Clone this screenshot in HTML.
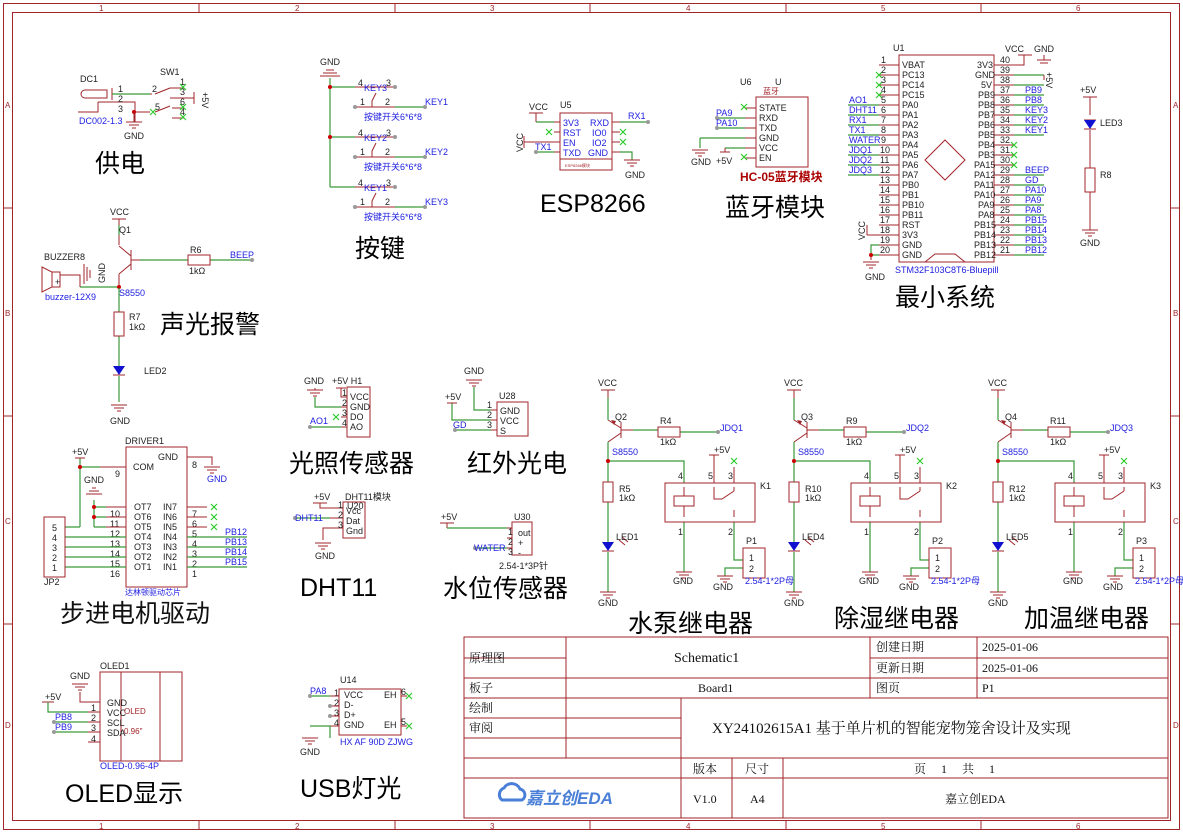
<!DOCTYPE html>
<html><head><meta charset="utf-8"><style>
body{margin:0;background:#fff}
svg{display:block}
text{font-family:"Liberation Sans","Noto Sans CJK SC",sans-serif}
.r{stroke:#a0252a;fill:none;stroke-width:1}
.g{stroke:#3a9a3a;fill:none;stroke-width:1.2}
.b{fill:#2020e0;font-size:9px}
.k{fill:#222;font-size:9px}
.rk{fill:#a0252a;font-size:8px}
.big{fill:#000;font-size:25px}
.x{stroke:#2ecc2e;stroke-width:1.2}
.s text{font-family:"Liberation Serif","Noto Serif CJK SC",serif;fill:#111}
</style></head><body>
<svg width="1183" height="833" viewBox="0 0 1183 833" xmlns="http://www.w3.org/2000/svg">
<!-- frame -->
<rect x="3.5" y="3.5" width="1176" height="826" class="r"/>
<rect x="12.5" y="12.5" width="1158" height="808" class="r"/>
<g class="r">
<line x1="199" y1="3" x2="199" y2="12"/><line x1="395" y1="3" x2="395" y2="12"/><line x1="590" y1="3" x2="590" y2="12"/><line x1="786" y1="3" x2="786" y2="12"/><line x1="981" y1="3" x2="981" y2="12"/>
<line x1="199" y1="821" x2="199" y2="830"/><line x1="395" y1="821" x2="395" y2="830"/><line x1="590" y1="821" x2="590" y2="830"/><line x1="786" y1="821" x2="786" y2="830"/><line x1="981" y1="821" x2="981" y2="830"/>
<line x1="3" y1="208" x2="12" y2="208"/><line x1="3" y1="416" x2="12" y2="416"/><line x1="3" y1="624" x2="12" y2="624"/>
<line x1="1171" y1="208" x2="1180" y2="208"/><line x1="1171" y1="416" x2="1180" y2="416"/><line x1="1171" y1="624" x2="1180" y2="624"/>
</g>
<g class="rk" font-size="8">
<text x="99" y="11">1</text><text x="295" y="11">2</text><text x="490" y="11">3</text><text x="686" y="11">4</text><text x="881" y="11">5</text><text x="1076" y="11">6</text>
<text x="99" y="829">1</text><text x="295" y="829">2</text><text x="490" y="829">3</text><text x="686" y="829">4</text><text x="881" y="829">5</text><text x="1076" y="829">6</text>
<text x="5" y="108">A</text><text x="5" y="316">B</text><text x="5" y="524">C</text><text x="5" y="728">D</text>
<text x="1173" y="108">A</text><text x="1173" y="316">B</text><text x="1173" y="524">C</text><text x="1173" y="728">D</text>
</g>

<!-- 供电 -->
<text class="k" x="80" y="82">DC1</text><text class="k" x="160" y="75">SW1</text>
<path class="r" d="M85 90 h22 v8 h-22 a4 4 0 0 1 0-8z M112 88 v12 M98 102 v10 h-20"/>
<path class="r" d="M112 94 h40 M98 102 h37 v20 M135 112 h15"/>
<line class="g" x1="112" y1="94" x2="150" y2="94"/>
<text class="k" x="118" y="92">1</text><text class="k" x="118" y="102">2</text><text class="k" x="118" y="112">3</text><text class="k" x="152" y="92">2</text><text class="k" x="180" y="85">1</text><text class="k" x="180" y="95">3</text><text class="k" x="180" y="105">6</text><text class="k" x="180" y="115">4</text><text class="k" x="155" y="110">5</text>
<path class="r" d="M155 94 l15 -6 M170 88 h14 M170 98 h24 M155 112 l15 -6 M172 108 h12 M172 118 h12"/>
<path class="x" d="M180 84 l6 6 m0 -6 l-6 6 M180 104 l6 6 m0 -6 l-6 6 M180 114 l6 6 m0 -6 l-6 6 M150 109 l6 6 m0 -6 l-6 6"/>
<line class="r" x1="194" y1="92" x2="194" y2="104"/><text class="k" transform="translate(202 92) rotate(90)">+5V</text>
<circle cx="134" cy="112" r="2" fill="#c00"/>
<path class="r" d="M134 112 v10 M126 122 h16 M129 125 h10 M132 128 h4"/>
<text class="k" x="124" y="139">GND</text>
<text class="b" x="79" y="124">DC002-1.3</text>
<text class="big" x="95" y="172">供电</text>

<!-- 按键 -->
<text class="k" x="320" y="65">GND</text>
<path class="r" d="M320 76 h20 M323 73 h14 M326 70 h8"/>
<path class="g" d="M330 78 v109 M330 87 h25 M330 137 h25 M330 187 h25"/>
<circle cx="330" cy="87" r="2" fill="#c00"/><circle cx="330" cy="137" r="2" fill="#c00"/>
<path class="r" d="M355 87 h40 M355 107 h40 M372 107 v-6 l4 -8"/>
<line class="g" x1="395" y1="107" x2="425" y2="107"/>
<circle cx="395" cy="87" r="2" fill="#999"/><circle cx="355" cy="107" r="2" fill="#999"/><circle cx="425" cy="107" r="2" fill="#999"/>
<text class="k" x="358" y="86">4</text><text class="b" x="364" y="91">KEY3</text><text class="k" x="386" y="86">3</text><text class="k" x="360" y="105">1</text><text class="k" x="385" y="105">2</text><text class="b" x="425" y="105">KEY1</text><text class="b" x="364" y="120">按键开关6*6*8</text>
<g transform="translate(0 50)">
<path class="r" d="M355 87 h40 M355 107 h40 M372 107 v-6 l4 -8"/><line class="g" x1="395" y1="107" x2="425" y2="107"/>
<circle cx="395" cy="87" r="2" fill="#999"/><circle cx="355" cy="107" r="2" fill="#999"/><circle cx="425" cy="107" r="2" fill="#999"/>
<text class="k" x="358" y="86">4</text><text class="b" x="364" y="91">KEY2</text><text class="k" x="386" y="86">3</text><text class="k" x="360" y="105">1</text><text class="k" x="385" y="105">2</text><text class="b" x="425" y="105">KEY2</text><text class="b" x="364" y="120">按键开关6*6*8</text>
</g>
<g transform="translate(0 100)">
<path class="r" d="M355 87 h40 M355 107 h40 M372 107 v-6 l4 -8"/><line class="g" x1="395" y1="107" x2="425" y2="107"/>
<circle cx="395" cy="87" r="2" fill="#999"/><circle cx="355" cy="107" r="2" fill="#999"/><circle cx="425" cy="107" r="2" fill="#999"/>
<text class="k" x="358" y="86">4</text><text class="b" x="364" y="91">KEY1</text><text class="k" x="386" y="86">3</text><text class="k" x="360" y="105">1</text><text class="k" x="385" y="105">2</text><text class="b" x="425" y="105">KEY3</text><text class="b" x="364" y="120">按键开关6*6*8</text>
</g>
<text class="big" x="355" y="257">按键</text>

<!-- ESP8266 -->
<rect class="r" x="560" y="113" width="52" height="57"/><line class="r" x1="560" y1="159" x2="612" y2="159"/>
<text class="k" x="529" y="110">VCC</text><text class="k" x="560" y="108">U5</text>
<path class="r" d="M529 113 h14 M536 113 v9"/><path class="g" d="M536 122 h18"/>
<path class="r" d="M554 122 h6 M554 132 h6 M554 142 h6 M554 152 h6 M612 122 h8 M612 132 h8 M612 142 h8 M612 152 h8"/>
<path class="r" d="M524 136 v12 M524 142 h30"/><text class="k" transform="translate(523 152) rotate(-90)">VCC</text>
<path class="g" d="M536 152 h18 M620 122 h28 M620 152 h12 v8"/><circle cx="648" cy="122" r="2" fill="#999"/><circle cx="536" cy="152" r="2" fill="#999"/>
<path class="x" d="M546 129 l6 6 m0 -6 l-6 6 M620 129 l6 6 m0 -6 l-6 6 M620 139 l6 6 m0 -6 l-6 6"/>
<g class="b"><text x="563" y="126">3V3</text><text x="563" y="136">RST</text><text x="563" y="146">EN</text><text x="563" y="156">TXD</text><text x="590" y="126">RXD</text><text x="592" y="136">IO0</text><text x="592" y="146">IO2</text><text x="588" y="156">GND</text><text x="628" y="119">RX1</text><text x="535" y="150">TX1</text></g>
<text x="565" y="167" fill="#a0252a" font-size="4">ESP8266模块</text>
<path class="r" d="M624 160 h16 M627 163 h10 M630 166 h4"/><text class="k" x="625" y="178">GND</text>
<text class="big" x="540" y="212">ESP8266</text>

<!-- 蓝牙 -->
<text class="k" x="740" y="85">U6</text><text class="k" x="775" y="85">U</text><text class="rk" x="763" y="94">蓝牙</text>
<rect class="r" x="756" y="97" width="52" height="70"/>
<g class="k" font-size="7"><text x="759" y="111">STATE</text><text x="759" y="121">RXD</text><text x="759" y="131">TXD</text><text x="759" y="141">GND</text><text x="759" y="151">VCC</text><text x="759" y="161">EN</text></g>
<path class="r" d="M745 108 h11 M745 118 h11 M745 128 h11 M745 138 h11 M745 148 h11 M745 158 h11"/>
<path class="g" d="M717 118 h28 M717 128 h28 M700 138 h45 M700 138 v10 M725 148 h20"/><path class="r" d="M692 150 h16 M695 153 h10 M698 156 h4 M725 148 v4 M720 152 h10"/>
<circle cx="717" cy="118" r="2" fill="#999"/><circle cx="717" cy="128" r="2" fill="#999"/>
<text class="b" x="716" y="116">PA9</text><text class="b" x="716" y="126">PA10</text><text class="k" x="691" y="165">GND</text><text class="k" x="716" y="164">+5V</text>
<path class="x" d="M741 104 l6 6 m0 -6 l-6 6 M741 154 l6 6 m0 -6 l-6 6"/>
<text x="740" y="181" fill="#a00" font-size="12" font-weight="bold" font-family="Liberation Serif,Noto Serif CJK SC,serif">HC-05蓝牙模块</text>
<text class="big" x="725" y="216">蓝牙模块</text>

<!-- STM32 -->
<text class="k" x="893" y="51" font-size="5">U1</text>
<rect class="r" x="899" y="55" width="95" height="207"/>
<path class="r" d="M925 160 l20 -20 l20 20 l-20 20z M925 262 l10 -8 h20 l10 8"/>
<g class="r">
<path d="M879 65 h20 M879 75 h20 M879 85 h20 M879 95 h20 M879 105 h20 M879 115 h20 M879 125 h20 M879 135 h20 M879 145 h20 M879 155 h20 M879 165 h20 M879 175 h20 M879 185 h20 M879 195 h20 M879 205 h20 M879 215 h20 M879 225 h20 M879 235 h20 M879 245 h20 M879 255 h20"/>
<path d="M994 65 h20 M994 75 h20 M994 85 h20 M994 95 h20 M994 105 h20 M994 115 h20 M994 125 h20 M994 135 h20 M994 145 h20 M994 155 h20 M994 165 h20 M994 175 h20 M994 185 h20 M994 195 h20 M994 205 h20 M994 215 h20 M994 225 h20 M994 235 h20 M994 245 h20 M994 255 h20"/>
</g>
<path class="g" d="M848 105 h31 M848 115 h31 M848 125 h31 M848 135 h31 M848 145 h31 M848 155 h31 M848 165 h31 M848 175 h31 M1014 75 h30 M1014 85 h30 M1014 95 h30 M1014 105 h30 M1014 115 h30 M1014 125 h30 M1014 135 h30 M1014 175 h30 M1014 185 h30 M1014 195 h30 M1014 205 h30 M1014 215 h30 M1014 225 h30 M1014 235 h30 M1014 245 h30 M1014 255 h30 M879 245 h-8 v10 h8"/>
<path class="x" d="M876 72 l6 6 m0 -6 l-6 6 M876 82 l6 6 m0 -6 l-6 6 M876 92 l6 6 m0 -6 l-6 6 M1011 142 l6 6 m0 -6 l-6 6 M1011 152 l6 6 m0 -6 l-6 6 M1011 162 l6 6 m0 -6 l-6 6"/>
<path class="r" d="M1014 65 h10 v-10 M1018 55 h14 M1044 55 v5 M1037 60 h14 M1040 63 h8 M1044 75 v5 M871 255 v5 M863 262 h16 M866 265 h10 M869 268 h4 M867 225 v10 M867 235 h12"/>
<circle cx="871" cy="255" r="2" fill="#c00"/>
<text class="k" x="1005" y="52">VCC</text><text class="k" x="1034" y="52">GND</text>
<text class="k" transform="translate(1046 72) rotate(90)">+5V</text>
<text class="k" transform="translate(865 240) rotate(-90)">VCC</text><text class="k" x="865" y="280">GND</text>
<g class="k" font-size="7">
<text x="881" y="63">1</text><text x="881" y="73">2</text><text x="881" y="83">3</text><text x="881" y="93">4</text><text x="881" y="103">5</text><text x="881" y="113">6</text><text x="881" y="123">7</text><text x="881" y="133">8</text><text x="881" y="143">9</text><text x="880" y="153">10</text><text x="880" y="163">11</text><text x="880" y="173">12</text><text x="880" y="183">13</text><text x="880" y="193">14</text><text x="880" y="203">15</text><text x="880" y="213">16</text><text x="880" y="223">17</text><text x="880" y="233">18</text><text x="880" y="243">19</text><text x="880" y="253">20</text>
<text x="902" y="68">VBAT</text><text x="902" y="78">PC13</text><text x="902" y="88">PC14</text><text x="902" y="98">PC15</text><text x="902" y="108">PA0</text><text x="902" y="118">PA1</text><text x="902" y="128">PA2</text><text x="902" y="138">PA3</text><text x="902" y="148">PA4</text><text x="902" y="158">PA5</text><text x="902" y="168">PA6</text><text x="902" y="178">PA7</text><text x="902" y="188">PB0</text><text x="902" y="198">PB1</text><text x="902" y="208">PB10</text><text x="902" y="218">PB11</text><text x="902" y="228">RST</text><text x="902" y="238">3V3</text><text x="902" y="248">GND</text><text x="902" y="258">GND</text>
<text x="977" y="68">3V3</text><text x="975" y="78">GND</text><text x="981" y="88">5V</text><text x="978" y="98">PB9</text><text x="978" y="108">PB8</text><text x="978" y="118">PB7</text><text x="978" y="128">PB6</text><text x="978" y="138">PB5</text><text x="978" y="148">PB4</text><text x="978" y="158">PB3</text><text x="974" y="168">PA15</text><text x="974" y="178">PA12</text><text x="974" y="188">PA11</text><text x="974" y="198">PA10</text><text x="978" y="208">PA9</text><text x="978" y="218">PA8</text><text x="974" y="228">PB15</text><text x="974" y="238">PB14</text><text x="974" y="248">PB13</text><text x="974" y="258">PB12</text>
<text x="1000" y="63">40</text><text x="1000" y="73">39</text><text x="1000" y="83">38</text><text x="1000" y="93">37</text><text x="1000" y="103">36</text><text x="1000" y="113">35</text><text x="1000" y="123">34</text><text x="1000" y="133">33</text><text x="1000" y="143">32</text><text x="1000" y="153">31</text><text x="1000" y="163">30</text><text x="1000" y="173">29</text><text x="1000" y="183">28</text><text x="1000" y="193">27</text><text x="1000" y="203">26</text><text x="1000" y="213">25</text><text x="1000" y="223">24</text><text x="1000" y="233">23</text><text x="1000" y="243">22</text><text x="1000" y="253">21</text>
</g>
<g class="b"><text x="849" y="103">AO1</text><text x="849" y="113">DHT11</text><text x="849" y="123">RX1</text><text x="849" y="133">TX1</text><text x="849" y="143">WATER</text><text x="849" y="153">JDQ1</text><text x="849" y="163">JDQ2</text><text x="849" y="173">JDQ3</text>
<text x="1025" y="93">PB9</text><text x="1025" y="103">PB8</text><text x="1025" y="113">KEY3</text><text x="1025" y="123">KEY2</text><text x="1025" y="133">KEY1</text><text x="1025" y="173">BEEP</text><text x="1025" y="183">GD</text><text x="1025" y="193">PA10</text><text x="1025" y="203">PA9</text><text x="1025" y="213">PA8</text><text x="1025" y="223">PB15</text><text x="1025" y="233">PB14</text><text x="1025" y="243">PB13</text><text x="1025" y="253">PB12</text>
<text x="895" y="273">STM32F103C8T6-Bluepill</text></g>
<text class="big" x="895" y="306">最小系统</text>

<!-- LED3 -->
<text class="k" x="1080" y="93">+5V</text><path class="r" d="M1083 97 h14 M1090 97 v18 M1084 120 h12 M1090 130 v38 M1090 192 v38 M1082 230 h16 M1085 233 h10 M1088 236 h4"/>
<path d="M1084 120 h12 l-6 9z" fill="#1010d0"/><line class="r" x1="1084" y1="129" x2="1096" y2="129"/>
<rect class="r" x="1085" y="168" width="10" height="24"/><text class="k" x="1100" y="126">LED3</text><text class="k" x="1100" y="178">R8</text><text class="k" x="1080" y="246">GND</text>

<!-- 声光报警 -->
<text class="k" x="110" y="215">VCC</text><path class="r" d="M112 219 h14 M119 219 v14"/><path class="g" d="M119 225 v10"/>
<path class="r" d="M131 250 v20 M131 256 l-12 -10 M131 264 l-12 10 M131 260 h25 M119 245 v-10 M119 274 v14"/>
<text class="k" x="119" y="233">Q1</text><text class="b" x="119" y="296">S8550</text>
<path class="g" d="M140 260 h48 M210 260 h42 M80 287 h39"/><circle cx="252" cy="260" r="2" fill="#999"/>
<rect class="r" x="188" y="255" width="22" height="10"/><text class="k" x="190" y="253">R6</text><text class="k" x="189" y="274">1kΩ</text><text class="b" x="230" y="258">BEEP</text>
<text class="k" x="44" y="260">BUZZER8</text><path class="r" d="M42 267 l10 5 v15 l-10 5z M52 272 h8 v15 h-8 M60 275 h20 v12 M84 264 v20 M87 267 v14 M90 270 v8"/>
<text class="k" transform="translate(105 283) rotate(-90)">GND</text><text class="k" x="55" y="285">+</text>
<text class="b" x="45" y="300">buzzer-12X9</text>
<circle cx="119" cy="287" r="2" fill="#c00"/>
<path class="g" d="M119 288 v24 M119 336 v30"/><rect class="r" x="114" y="312" width="10" height="24"/><text class="k" x="129" y="320">R7</text><text class="k" x="129" y="330">1kΩ</text>
<path d="M113 366 h12 l-6 9z" fill="#1010d0"/><line class="r" x1="113" y1="375" x2="125" y2="375"/><text class="k" x="144" y="374">LED2</text>
<path class="g" d="M119 376 v26"/><path class="r" d="M111 405 h16 M114 408 h10 M117 411 h4"/><text class="k" x="110" y="424">GND</text>
<text class="big" x="160" y="333">声光报警</text>

<!-- 步进电机 -->
<text class="k" x="125" y="444">DRIVER1</text>
<rect class="r" x="126" y="447" width="61" height="140"/>
<g class="k" font-family="Liberation Serif,serif"><text x="133" y="470">COM</text><text x="158" y="460">GND</text>
<text x="134" y="510">OT7</text><text x="134" y="520">OT6</text><text x="134" y="530">OT5</text><text x="134" y="540">OT4</text><text x="134" y="550">OT3</text><text x="134" y="560">OT2</text><text x="134" y="570">OT1</text>
<text x="163" y="510">IN7</text><text x="163" y="520">IN6</text><text x="163" y="530">IN5</text><text x="163" y="540">IN4</text><text x="163" y="550">IN3</text><text x="163" y="560">IN2</text><text x="163" y="570">IN1</text>
<text x="115" y="477">9</text><text x="192" y="468">8</text><text x="110" y="517">10</text><text x="110" y="527">11</text><text x="110" y="537">12</text><text x="110" y="547">13</text><text x="110" y="557">14</text><text x="110" y="567">15</text><text x="110" y="577">16</text>
<text x="192" y="517">7</text><text x="192" y="527">6</text><text x="192" y="537">5</text><text x="192" y="547">4</text><text x="192" y="557">3</text><text x="192" y="567">2</text><text x="192" y="577">1</text></g>
<path class="r" d="M187 457 h25 v8 M204 467 h16 M207 470 h10 M210 473 h4 M100 467 h26 M100 507 h26 M100 517 h26 M100 527 h26 M100 537 h26 M100 547 h26 M100 557 h26 M100 567 h26 M187 507 h20 M187 517 h20 M187 527 h20 M187 537 h20 M187 547 h20 M187 557 h20 M187 567 h20"/>
<path class="g" d="M80 458 v69 M80 467 h20 M94 500 v27 M94 507 h12 M94 517 h12 M94 527 h12 M65 527 h15 M65 537 h61 M65 547 h61 M65 557 h61 M65 567 h61 M187 537 h60 M187 547 h60 M187 557 h60 M187 567 h60"/>
<circle cx="80" cy="467" r="2" fill="#c00"/><circle cx="94" cy="507" r="2" fill="#c00"/><circle cx="94" cy="517" r="2" fill="#c00"/>
<text class="k" x="72" y="455">+5V</text><path class="r" d="M75 458 h10 M86 494 h16 M89 491 h10 M92 488 h4"/><text class="k" x="84" y="483">GND</text><text class="b" x="207" y="482">GND</text>
<path class="x" d="M211 504 l6 6 m0 -6 l-6 6 M211 514 l6 6 m0 -6 l-6 6 M211 524 l6 6 m0 -6 l-6 6"/>
<g class="b"><text x="225" y="535">PB12</text><text x="225" y="545">PB13</text><text x="225" y="555">PB14</text><text x="225" y="565">PB15</text><text x="125" y="595" font-size="8">达林顿驱动芯片</text></g>
<rect class="r" x="44" y="517" width="21" height="60"/>
<g class="k"><text x="52" y="531">5</text><text x="52" y="541">4</text><text x="52" y="551">3</text><text x="52" y="561">2</text><text x="52" y="571">1</text><text x="44" y="585">JP2</text></g>
<text x="60" y="622" font-size="25" fill="#111">步进电机驱动</text>

<!-- 光照 -->
<text class="k" x="304" y="384">GND</text><text class="k" x="332" y="384">+5V H1</text>
<path class="r" d="M307 390 h16 M310 393 h10 M313 396 h4 M315 390 v-2 M336 388 h10 M341 388 v9 h6 M341 407 h6 M341 417 h6 M341 427 h6"/>
<path class="g" d="M315 397 v10 h26 M310 427 h31"/><circle cx="310" cy="427" r="2" fill="#999"/><text class="b" x="310" y="424">AO1</text>
<rect class="r" x="347" y="387" width="23" height="50"/>
<g class="k"><text x="350" y="400">VCC</text><text x="350" y="410">GND</text><text x="350" y="420">DO</text><text x="350" y="430">AO</text><text x="342" y="396">1</text><text x="342" y="406">2</text><text x="342" y="416">3</text><text x="342" y="426">4</text></g>
<path class="x" d="M333 414 l6 6 m0 -6 l-6 6"/>
<text class="big" x="289" y="472">光照传感器</text>

<!-- 红外 -->
<text class="k" x="464" y="374">GND</text><path class="r" d="M466 380 h16 M469 383 h10 M472 386 h4"/>
<path class="g" d="M474 387 v23 h17 M452 403 v17 h39 M455 430 h36"/><path class="r" d="M447 403 h10 M491 410 h6 M491 420 h6 M491 430 h6"/>
<text class="k" x="445" y="400">+5V</text><circle cx="455" cy="430" r="2" fill="#999"/><text class="b" x="453" y="428">GD</text>
<rect class="r" x="497" y="402" width="31" height="34"/><text class="k" x="499" y="399">U28</text>
<g class="k"><text x="500" y="414">GND</text><text x="500" y="424">VCC</text><text x="500" y="434">S</text><text x="487" y="408">1</text><text x="487" y="418">2</text><text x="487" y="428">3</text></g>
<text class="big" x="467" y="472">红外光电</text>

<!-- DHT11 -->
<text class="k" x="314" y="500">+5V</text><text class="k" x="345" y="500">DHT11模块</text><text class="k" x="347" y="509">U20</text>
<path class="r" d="M313 503 h14 M320 503 v5 h23 M330 518 h13 M343 528 h-20 v12 M315 543 h16 M318 546 h10 M321 549 h4"/>
<path class="g" d="M295 518 h35"/><circle cx="295" cy="518" r="2" fill="#999"/><text class="b" x="295" y="521">DHT11</text>
<rect class="r" x="343" y="502" width="22" height="36"/>
<g class="k"><text x="346" y="514">Vcc</text><text x="346" y="524">Dat</text><text x="346" y="534">Gnd</text><text x="338" y="508">1</text><text x="338" y="518">2</text><text x="338" y="528">3</text></g>
<text class="k" x="315" y="559">GND</text>
<text class="big" x="300" y="596">DHT11</text>

<!-- 水位 -->
<text class="k" x="441" y="520">+5V</text><text class="k" x="514" y="520">U30</text>
<path class="r" d="M440 523 h14 M447 523 v5"/><path class="g" d="M447 528 h60 M475 548 h32"/><path class="r" d="M507 528 h5 M507 538 h5 M507 548 h5"/>
<circle cx="475" cy="548" r="2" fill="#999"/><text class="b" x="474" y="551">WATER</text>
<rect class="r" x="512" y="522" width="20" height="33"/>
<g class="k"><text x="518" y="536">out</text><text x="518" y="546">+</text><text x="518" y="556">-</text><text x="508" y="535">1</text><text x="508" y="545">2</text><text x="508" y="555">3</text></g>
<text class="k" x="499" y="569">2.54-1*3P针</text>
<text class="big" x="443" y="597">水位传感器</text>

<!-- relays -->
<g id="rel">
<text class="k" x="598" y="386">VCC</text><path class="r" d="M601 390 h14 M608 390 v8 M621 422 v16 M608 420 l13 8 M621 433 l-13 9 M621 430 h12"/>
<path d="M611 420 l5 1 l-2 4z" fill="#a0252a"/>
<path class="g" d="M608 398 v22 M633 430 h25 M680 432 h38 M608 442 v40 M608 461 h76 v22 M608 502 v40 M608 552 v40 M684 522 v50 M734 522 v38 h9 M743 568 h-18 v8"/>
<path class="r" d="M600 592 h16 M603 595 h10 M606 598 h4 M676 572 h16 M679 575 h10 M682 578 h4 M717 576 h16 M720 579 h10 M723 582 h4"/>
<circle cx="718" cy="432" r="2" fill="#999"/><circle cx="608" cy="461" r="2" fill="#c00"/>
<rect class="r" x="658" y="427" width="22" height="10"/>
<rect class="r" x="603" y="482" width="10" height="20"/>
<path d="M602 542 h12 l-6 9z" fill="#1010d0"/><line class="r" x1="602" y1="551" x2="614" y2="551"/>
<path class="r" d="M619 540 l6 5 M622 537 l6 5"/>
<rect class="r" x="665" y="483" width="90" height="39"/><rect class="r" x="674" y="496" width="20" height="10"/>
<path class="r" d="M684 487 v9 M684 506 v11 M714 487 v12 h8 l12 -8 M734 487 v4 M734 510 v7 M714 455 v28 M709 455 h10 M734 467 v16"/>
<path class="x" d="M731 458 l6 6 m0 -6 l-6 6"/>
<rect class="r" x="743" y="548" width="22" height="30"/>
<g class="k"><text x="714" y="453">+5V</text><text x="612" y="455" class="b">S8550</text><text x="619" y="501">1kΩ</text><text x="678" y="479">4</text><text x="708" y="479">5</text><text x="728" y="479">3</text><text x="678" y="535">1</text><text x="728" y="535">2</text><text x="749" y="561">1</text><text x="749" y="572">2</text><text x="673" y="584">GND</text><text x="598" y="606">GND</text><text x="713" y="590">GND</text></g>
</g>
<g class="k"><text x="615" y="420">Q2</text><text x="660" y="424">R4</text><text x="660" y="445">1kΩ</text><text x="616" y="540">LED1</text><text x="760" y="489">K1</text><text x="746" y="544">P1</text><text x="619" y="492">R5</text></g>
<g class="b"><text x="720" y="431">JDQ1</text><text x="745" y="584">2.54-1*2P母</text></g>
<use href="#rel" transform="translate(186 0)"/>
<g class="k"><text x="801" y="420">Q3</text><text x="846" y="424">R9</text><text x="846" y="445">1kΩ</text><text x="802" y="540">LED4</text><text x="946" y="489">K2</text><text x="932" y="544">P2</text><text x="805" y="492">R10</text></g>
<g class="b"><text x="906" y="431">JDQ2</text><text x="931" y="584">2.54-1*2P母</text></g>
<use href="#rel" transform="translate(390 0)"/>
<g class="k"><text x="1005" y="420">Q4</text><text x="1050" y="424">R11</text><text x="1050" y="445">1kΩ</text><text x="1006" y="540">LED5</text><text x="1150" y="489">K3</text><text x="1136" y="544">P3</text><text x="1009" y="492">R12</text></g>
<g class="b"><text x="1110" y="431">JDQ3</text><text x="1135" y="584">2.54-1*2P母</text></g>
<text class="big" x="628" y="632">水泵继电器</text><text class="big" x="834" y="627">除湿继电器</text><text class="big" x="1024" y="627">加温继电器</text>

<!-- OLED -->
<text class="k" x="100" y="669">OLED1</text>
<rect class="r" x="100" y="672" width="82" height="89"/><path class="r" d="M121 672 v89 M160 672 v89"/>
<text class="k" x="70" y="679">GND</text><path class="r" d="M72 684 h16 M75 687 h10 M78 690 h4 M80 692 v10 h20 M42 702 h12"/>
<path class="g" d="M48 702 v10 h40 M54 722 h34 M54 732 h34"/><path class="r" d="M88 712 h12 M88 722 h12 M88 732 h12 M88 742 h12"/>
<circle cx="54" cy="722" r="2" fill="#999"/><circle cx="54" cy="732" r="2" fill="#999"/>
<text class="k" x="45" y="700">+5V</text><text class="b" x="55" y="720">PB8</text><text class="b" x="55" y="730">PB9</text>
<g class="k"><text x="107" y="706">GND</text><text x="107" y="716">VCC</text><text x="107" y="726">SCL</text><text x="107" y="736">SDA</text><text x="91" y="711">1</text><text x="91" y="721">2</text><text x="91" y="731">3</text><text x="91" y="742">4</text></g>
<text class="rk" x="124" y="714" font-size="10">OLED</text><text class="rk" x="124" y="734" font-size="10">0.96"</text>
<text class="b" x="100" y="769">OLED-0.96-4P</text>
<text class="big" x="65" y="802">OLED显示</text>

<!-- USB -->
<text class="k" x="340" y="683">U14</text><rect class="r" x="339" y="689" width="62" height="46"/>
<g class="k"><text x="344" y="698">VCC</text><text x="344" y="708">D-</text><text x="344" y="718">D+</text><text x="344" y="728">GND</text><text x="384" y="698">EH</text><text x="384" y="728">EH</text><text x="334" y="696">1</text><text x="334" y="706">2</text><text x="334" y="716">3</text><text x="334" y="726">4</text><text x="401" y="695">6</text><text x="401" y="725">5</text></g>
<path class="r" d="M330 696 h9 M330 706 h9 M330 716 h9 M330 726 h9 M401 696 h6 M401 726 h6 M302 738 h16 M305 741 h10 M308 744 h4"/>
<path class="g" d="M310 696 h20 M310 726 h20 v12"/><circle cx="310" cy="696" r="2" fill="#999"/><circle cx="330" cy="706" r="2" fill="#999"/><circle cx="330" cy="716" r="2" fill="#999"/>
<text class="b" x="310" y="694">PA8</text><text class="k" x="300" y="755">GND</text>
<path class="x" d="M406 693 l6 6 m0 -6 l-6 6 M406 723 l6 6 m0 -6 l-6 6"/>
<text class="b" x="340" y="745">HX AF 90D ZJWG</text>
<text class="big" x="300" y="797">USB灯光</text>

<!-- title block -->
<g class="r" stroke-width="1.3">
<rect x="464" y="637" width="704" height="181"/>
<path d="M464 658 H566 M870 658 H1168 M464 678 H1168 M464 698 H1168 M464 718 H681 M464 738 H681 M464 758 H1168 M464 778 H1168 M566 637 V758 M870 637 V698 M977 637 V698 M681 698 V818 M732 758 V818 M783 758 V818"/>
</g>
<g class="s" font-size="12">
<text x="469" y="662">原理图</text><text x="674" y="662" font-size="14">Schematic1</text>
<text x="876" y="651">创建日期</text><text x="982" y="651">2025-01-06</text>
<text x="876" y="672">更新日期</text><text x="982" y="672">2025-01-06</text>
<text x="469" y="692">板子</text><text x="698" y="692">Board1</text><text x="876" y="692">图页</text><text x="982" y="692">P1</text>
<text x="469" y="712">绘制</text><text x="469" y="732">审阅</text>
<text x="712" y="733" font-size="15">XY24102615A1 基于单片机的智能宠物笼舍设计及实现</text>
<text x="693" y="773">版本</text><text x="745" y="773">尺寸</text><text x="914" y="773">页　 1　 共　 1</text>
<text x="693" y="803">V1.0</text><text x="750" y="803">A4</text><text x="945" y="803">嘉立创EDA</text>
</g>
<g fill="#4a7fd8"><path d="M502 800 a7 7 0 0 1 2 -12 a9 9 0 0 1 16 1 a6 6 0 0 1 2 11z" fill="none" stroke="#4a7fd8" stroke-width="3"/>
<text x="526" y="804" font-size="17" font-weight="bold" font-style="italic">嘉立创EDA</text></g>
</svg>
</body></html>
